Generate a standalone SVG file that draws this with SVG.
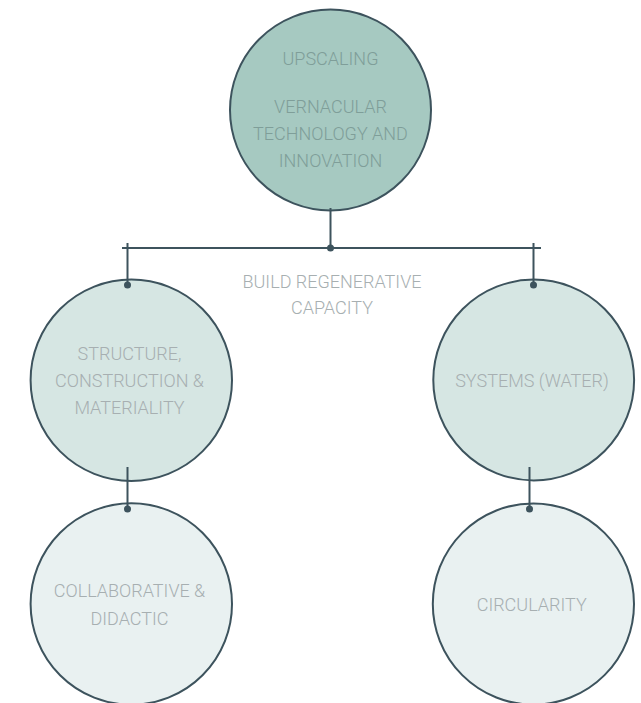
<svg xmlns="http://www.w3.org/2000/svg" width="641" height="703" viewBox="0 0 641 703">
  <style>
    .node { stroke: #3d535d; stroke-width: 2; }
    .n0 { fill: #a6c9c1; }
    .n1 { fill: #d6e6e3; }
    .n2 { fill: #e9f1f1; }
    .lbl { font-family: "Roboto Light", Roboto, "Liberation Sans", sans-serif; font-weight: 300; font-size: 18px; text-anchor: middle; fill: #a7afb1; }
    .lbl-dark { fill: #7f9e99; }
    .wire { stroke: #3d535d; stroke-width: 2; fill: none; }
    .dot { fill: #3d535d; }
  </style>

  <g id="label-capacity">
    <text class="lbl" x="332" y="288">BUILD REGENERATIVE</text>
    <text class="lbl" x="332" y="314">CAPACITY</text>
  </g>

  <g id="upscaling">
    <circle class="node n0" cx="330.5" cy="110" r="100.5"/>
    <text class="lbl lbl-dark" x="330.5" y="65">UPSCALING</text>
    <text class="lbl lbl-dark" x="330.5" y="113">VERNACULAR</text>
    <text class="lbl lbl-dark" x="330.5" y="140">TECHNOLOGY AND</text>
    <text class="lbl lbl-dark" x="330.5" y="167">INNOVATION</text>
  </g>

  <g id="structure">
    <circle class="node n1" cx="131.3" cy="380.2" r="100.7"/>
    <text class="lbl" x="129.5" y="360">STRUCTURE,</text>
    <text class="lbl" x="129.5" y="387">CONSTRUCTION &amp;</text>
    <text class="lbl" x="129.5" y="414">MATERIALITY</text>
  </g>

  <g id="systems">
    <circle class="node n1" cx="533.7" cy="380" r="100.4"/>
    <text class="lbl" x="532" y="387">SYSTEMS (WATER)</text>
  </g>

  <g id="collaborative">
    <circle class="node n2" cx="131.3" cy="604" r="100.7"/>
    <text class="lbl" x="129.5" y="597">COLLABORATIVE &amp;</text>
    <text class="lbl" x="129.5" y="625">DIDACTIC</text>
  </g>

  <g id="circularity">
    <circle class="node n2" cx="533.4" cy="604" r="100.6"/>
    <text class="lbl" x="531.7" y="611">CIRCULARITY</text>
  </g>

  <!-- connectors, drawn over the circles so the end dots sit on the rims -->
  <g id="connectors">
    <line class="wire" x1="330.5" y1="208" x2="330.5" y2="248"/>
    <line class="wire" x1="122" y1="248" x2="541" y2="248"/>
    <line class="wire" x1="127.5" y1="243" x2="127.5" y2="285"/>
    <line class="wire" x1="533.5" y1="243" x2="533.5" y2="285"/>
    <line class="wire" x1="127.5" y1="467" x2="127.5" y2="509"/>
    <line class="wire" x1="529.5" y1="467" x2="529.5" y2="509"/>
    <circle class="dot" cx="330.5" cy="248" r="3.5"/>
    <circle class="dot" cx="127.5" cy="285" r="3.5"/>
    <circle class="dot" cx="533.5" cy="285" r="3.5"/>
    <circle class="dot" cx="127.5" cy="509" r="3.5"/>
    <circle class="dot" cx="529.5" cy="509" r="3.5"/>
  </g>
</svg>
